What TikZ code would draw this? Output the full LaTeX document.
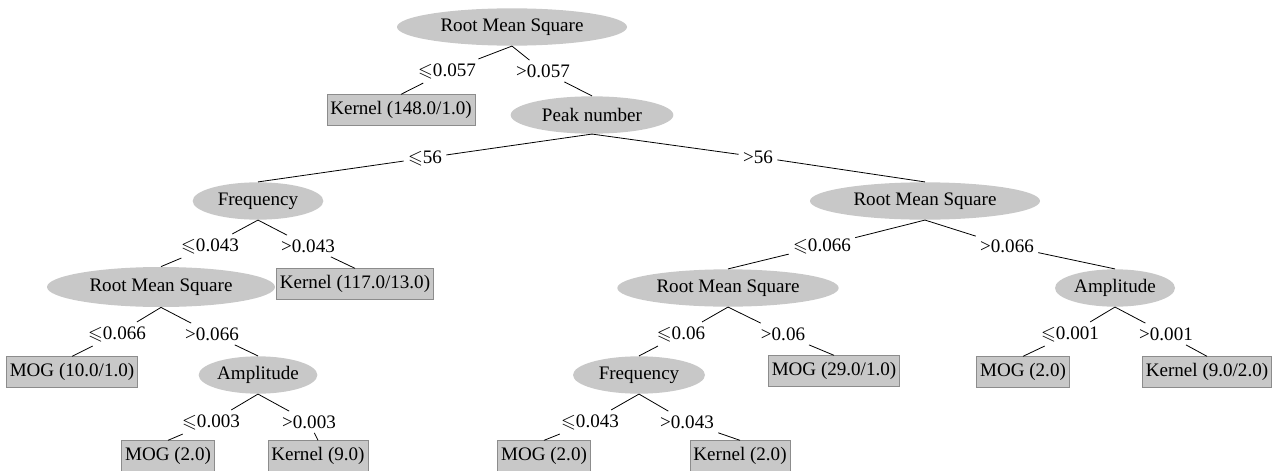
\documentclass[tikz,border=0pt]{standalone}
\usepackage{amssymb}
\usepackage{fontspec}
\setmainfont{Liberation Serif}
\usetikzlibrary{shapes.geometric}
\definecolor{boxgray}{HTML}{C8C8C8}
\definecolor{rimgray}{HTML}{8C8C8C}
\tikzset{
  feat/.style={ellipse, fill=boxgray, inner sep=0pt, minimum height=28pt, font=\fontsize{14.3}{17}\selectfont},
  leaf/.style={rectangle, fill=boxgray, draw=rimgray, line width=0.5pt, inner xsep=2.5pt, minimum height=23pt, font=\fontsize{14.3}{17}\selectfont},
  cond/.style={inner xsep=3pt, inner ysep=3pt, font=\fontsize{14.3}{17}\selectfont},
}
\begin{document}
\begin{tikzpicture}[x=0.75pt, y=-0.75pt, line width=0.6pt]
    \useasboundingbox (0,0) rectangle (1274,471);
    % Knoten der ersten Ebenen
    \node[feat, minimum width=172.5pt] (rmsA) at (512,27) {Root Mean Square};
    \node[cond] (lA1) at (447,71) {$\leqslant$0.057};
    \node[cond] (lA2) at (543,71) {>0.057};
    \node[leaf] (kernA) at (401,110) {Kernel (148.0/1.0)};
    \node[feat, minimum width=122pt] (peak) at (592,115) {Peak number};
    \node[cond] (lB1) at (425,158) {$\leqslant$56};
    \node[cond] (lB2) at (758,157) {>56};
    \node[feat, minimum width=98pt] (freqA) at (258,201) {Frequency};
    \node[feat, minimum width=172.5pt] (rmsB) at (925,201) {Root Mean Square};
    % linker Zweig
    \node[cond] (lC1) at (210,246) {$\leqslant$0.043};
    \node[cond] (lC2) at (308,246) {>0.043};
    \node[feat, minimum width=171pt, minimum height=30pt] (rmsC) at (161,287) {Root Mean Square};
    \node[leaf] (kernB) at (355,284) {Kernel (117.0/13.0)};
    \node[cond] (lE1) at (117,334) {$\leqslant$0.066};
    \node[cond] (lE2) at (212,334) {>0.066};
    \node[leaf] (mogA) at (72,372) {MOG (10.0/1.0)};
    \node[feat, minimum width=89pt] (ampB) at (258,375) {Amplitude};
    \node[cond] (lH1) at (211,422) {$\leqslant$0.003};
    \node[cond] (lH2) at (309,422) {>0.003};
    \node[leaf] (mogD) at (168,456) {MOG (2.0)};
    \node[leaf] (kernD) at (318,456) {Kernel (9.0)};
    % rechter Zweig
    \node[cond] (lD1) at (822,246) {$\leqslant$0.066};
    \node[cond] (lD2) at (1007,246) {>0.066};
    \node[feat, minimum width=166pt] (rmsD) at (728,288) {Root Mean Square};
    \node[feat, minimum width=90pt] (ampA) at (1115,288) {Amplitude};
    \node[cond] (lF1) at (681,334) {$\leqslant$0.06};
    \node[cond] (lF2) at (783,334) {>0.06};
    \node[cond] (lG1) at (1070,334) {$\leqslant$0.001};
    \node[cond] (lG2) at (1166,334) {>0.001};
    \node[feat, minimum width=99pt] (freqB) at (639,375) {Frequency};
    \node[leaf] (mogB) at (834,371) {MOG (29.0/1.0)};
    \node[leaf] (mogC) at (1023,372) {MOG (2.0)};
    \node[leaf] (kernC) at (1207,372) {Kernel (9.0/2.0)};
    \node[cond] (lI1) at (590,422) {$\leqslant$0.043};
    \node[cond] (lI2) at (687,422) {>0.043};
    \node[leaf] (mogE) at (544,456) {MOG (2.0)};
    \node[leaf] (kernE) at (740,456) {Kernel (2.0)};
    % Kanten, jeweils durch die Bedingung unterbrochen
    \draw (rmsA.south) -- (lA1) (lA1) -- (kernA.north);
    \draw (rmsA.south) -- (lA2) (lA2) -- (peak.north);
    \draw (peak.south) -- (lB1) (lB1) -- (freqA.north);
    \draw (peak.south) -- (lB2) (lB2) -- (rmsB.north);
    \draw (freqA.south) -- (lC1) (lC1) -- (rmsC.north);
    \draw (freqA.south) -- (lC2) (lC2) -- (kernB.north);
    \draw (rmsB.south) -- (lD1) (lD1) -- (rmsD.north);
    \draw (rmsB.south) -- (lD2) (lD2) -- (ampA.north);
    \draw (rmsC.south) -- (lE1) (lE1) -- (mogA.north);
    \draw (rmsC.south) -- (lE2) (lE2) -- (ampB.north);
    \draw (rmsD.south) -- (lF1) (lF1) -- (freqB.north);
    \draw (rmsD.south) -- (lF2) (lF2) -- (mogB.north);
    \draw (ampA.south) -- (lG1) (lG1) -- (mogC.north);
    \draw (ampA.south) -- (lG2) (lG2) -- (kernC.north);
    \draw (ampB.south) -- (lH1) (lH1) -- (mogD.north);
    \draw (ampB.south) -- (lH2) (lH2) -- (kernD.north);
    \draw (freqB.south) -- (lI1) (lI1) -- (mogE.north);
    \draw (freqB.south) -- (lI2) (lI2) -- (kernE.north);
\end{tikzpicture}
\end{document}
